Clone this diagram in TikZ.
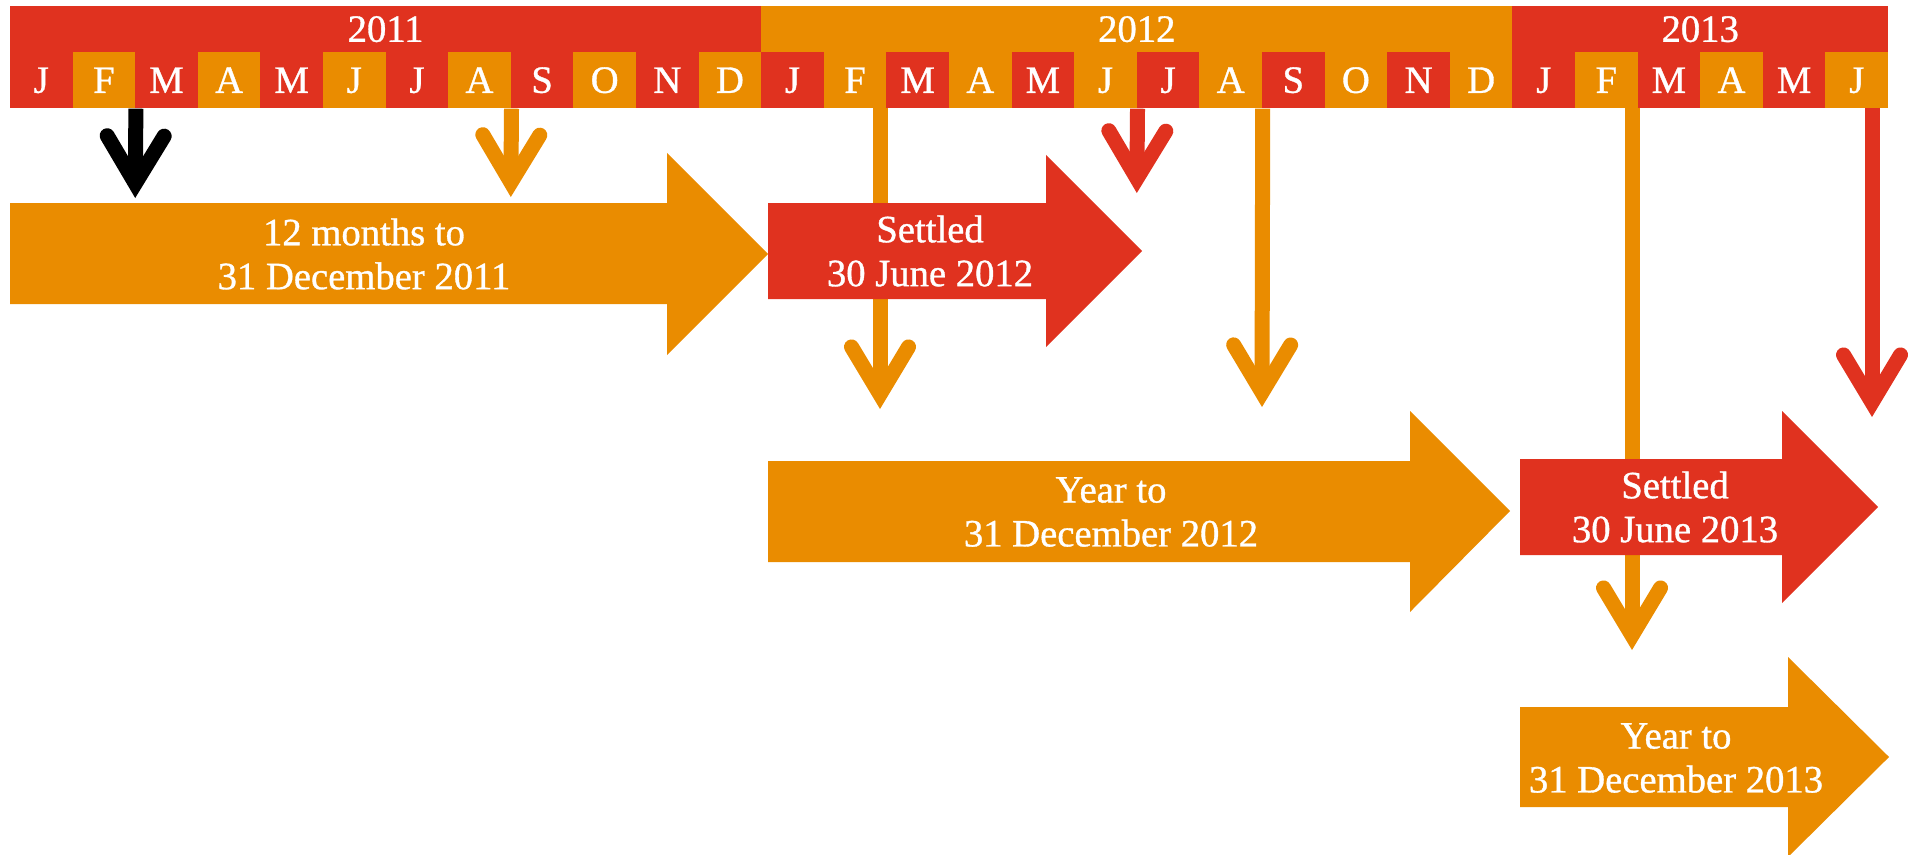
\documentclass[tikz,border=0pt]{standalone}
\usepackage{fontspec}
\setmainfont[FakeBold=0.9]{Liberation Serif}
\usetikzlibrary{arrows.meta}

\definecolor{redbar}{RGB}{224,50,31}
\definecolor{orangebar}{RGB}{234,140,0}
\colorlet{mc1}{redbar}
\colorlet{mc0}{orangebar}

\tikzset{
    yearbar/.style = {minimum width=#1, minimum height=4.6mm, inner sep=0pt, text=white, text height=7.3pt, text depth=0pt},
    monthbox/.style = {minimum width=6.26mm, minimum height=5.6mm, inner sep=0pt, text=white, text height=7.3pt, text depth=0pt},
    periodtext/.style = {text=white, align=center, inner sep=0pt},
    downarrow/.style = {line width=1.5mm, -{Straight Barb[length=4.75mm, width=5.7mm, line cap=round, line join=miter]}}
}

\begin{document}
\begin{tikzpicture}[x = 0.1mm , y = -0.1mm , every node/.style = {font=\fontsize{11}{12.5}\selectfont}]
    \useasboundingbox (0,0) rectangle (1910,854);

    % Έτη
    \node[yearbar = 75.12mm , fill = redbar] (y2011) at (385.6, 29) {2011};
    \node[yearbar = 75.12mm , fill = orangebar] (y2012) at (1136.8, 29) {2012};
    \node[yearbar = 37.56mm , fill = redbar] (y2013) at (1700.2, 29) {2013};

    % Μήνες
    \foreach \m [count = \i] in {J,F,M,A,M,J,J,A,S,O,N,D,J,F,M,A,M,J,J,A,S,O,N,D,J,F,M,A,M,J} {
        \pgfmathtruncatemacro\c{mod(\i,2)}
        \node[monthbox , fill = mc\c] (m\i) at ({10 + (\i - 0.5)*62.6}, 80) {\m};
    }

    % Βέλη προς τα κάτω
    \coordinate (tipA) at (135.2, 198);
    \coordinate (tipB) at (510.8, 197);
    \coordinate (topC) at (880, 108);
    \coordinate (tipC) at (880, 409);
    \coordinate (tipD) at (1136.8, 193);
    \coordinate (tipE) at (1262, 407);
    \coordinate (topF) at (1632, 108);
    \coordinate (tipF) at (1632, 650);
    \coordinate (topG) at (1872, 108);
    \coordinate (tipG) at (1872, 417);
    \draw[downarrow , black] (m2.south east) -- (tipA);
    \draw[downarrow , orangebar] (m8.south east) -- (tipB);
    \draw[downarrow , orangebar] (topC) -- (tipC);
    \draw[downarrow , redbar] (m18.south east) -- (tipD);
    \draw[downarrow , orangebar] (m20.south east) -- (tipE);
    \draw[downarrow , orangebar] (topF) -- (tipF);
    \draw[downarrow , redbar] (topG) -- (tipG);

    % Περίοδοι
    \fill[orangebar] (10,203) -- (667,203) -- (667,153) -- (768,254) -- (667,355) -- (667,304) -- (10,304) -- cycle;
    \fill[redbar] (768,203) -- (1046,203) -- (1046,155) -- (1142,251) -- (1046,347) -- (1046,299) -- (768,299) -- cycle;
    \fill[orangebar] (768,461) -- (1410,461) -- (1410,411) -- (1510,511) -- (1410,612) -- (1410,562) -- (768,562) -- cycle;
    \fill[redbar] (1520,459) -- (1782,459) -- (1782,411) -- (1878,507) -- (1782,603) -- (1782,555) -- (1520,555) -- cycle;
    \fill[orangebar] (1520,707) -- (1788,707) -- (1788,657) -- (1889,757) -- (1788,857) -- (1788,807) -- (1520,807) -- cycle;

    \node[periodtext] (p2011) at (364, 254) {12 months to\\31 December 2011};
    \node[periodtext] (s2012) at (930, 251) {Settled\\30 June 2012};
    \node[periodtext] (p2012) at (1111, 512) {Year to\\31 December 2012};
    \node[periodtext] (s2013) at (1675, 507) {Settled\\30 June 2013};
    \node[periodtext] (p2013) at (1676, 758) {Year to\\31 December 2013};
\end{tikzpicture}
\end{document}
